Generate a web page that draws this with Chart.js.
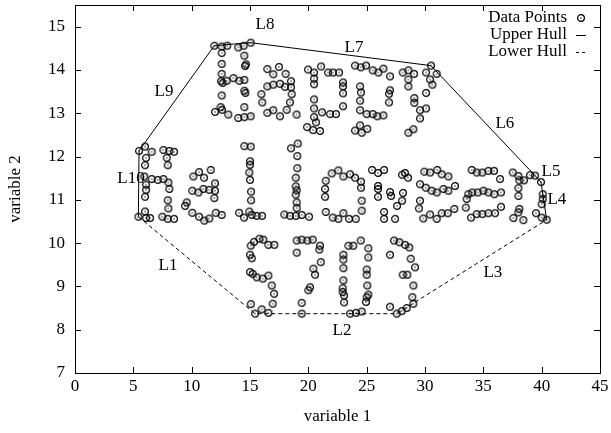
<!DOCTYPE html>
<html>
<head>
<meta charset="utf-8">
<script src="https://cdn.jsdelivr.net/npm/chart.js@4.4.0/dist/chart.umd.min.js"></script>
<style>
  html, body { margin: 0; padding: 0; background: #fff; }
  #wrap { width: 611px; height: 433px; }
</style>
</head>
<body>
<div id="wrap"><canvas id="chart" width="611" height="433"></canvas></div>
<script>
// data points, one list per word of the lettering
const happyPts = [
  [11.94,14.56],[12.57,14.54],[13.05,14.56],[12.57,14.39],[12.57,14.14],[12.57,13.91],[12.51,13.74],[12.65,13.70],
  [13.0,13.75],[13.57,13.81],[14.08,13.75],[14.51,13.77],[13.99,14.52],[14.45,14.56],[15.05,14.63],[14.51,14.33],
  [14.65,14.13],[14.57,14.09],[14.51,13.52],[14.6,13.47],[14.51,13.14],[12.57,13.41],[12.48,13.14],[12.0,13.03],
  [12.6,13.08],[13.14,12.97],[13.99,12.89],[14.51,12.91],[15.05,12.93],
  [16.48,14.02],[17.48,14.07],[16.99,13.90],[18.05,13.91],[18.51,13.74],[17.99,13.61],[17.57,13.68],[16.99,13.66],
  [16.48,13.62],[18.51,13.60],[15.97,13.44],[18.57,13.44],[16.05,13.25],[18.42,13.25],[16.48,13.01],[16.99,13.07],
  [17.57,12.93],[18.14,13.08],[18.99,12.97],
  [19.97,14.01],[20.49,13.94],[21.09,14.08],[21.69,13.94],[22.11,13.94],[22.63,13.94],[20.49,13.80],[20.49,13.67],
  [22.97,13.71],[22.97,13.62],[22.97,13.46],[20.49,13.32],[20.49,13.11],[22.97,13.16],[22.37,12.98],[21.86,12.98],
  [21.17,13.02],[20.49,12.91],[20.66,12.79],[19.89,12.68],[20.40,12.61],[21.0,12.59],
  [24.0,14.10],[24.49,14.06],[24.94,14.10],[25.52,13.99],[26.0,13.94],[26.43,14.03],[27.0,13.85],[24.43,13.62],
  [24.51,13.48],[24.43,13.29],[24.43,13.07],[25.0,12.98],[25.52,12.98],[25.91,12.93],[26.43,12.95],[27.0,13.53],
  [26.91,13.45],[26.91,13.25],[24.43,12.72],[24.0,12.60],[24.57,12.55],[25.05,12.64],
  [28.09,13.94],[28.57,13.99],[29.06,13.91],[28.57,13.78],[28.57,13.62],[30.09,13.94],[30.51,14.10],[31.0,13.91],
  [30.43,13.78],[30.63,13.66],[30.09,13.47],[29.08,13.35],[29.08,13.24],[29.57,13.07],[30.09,13.11],[29.57,12.88],
  [29.0,12.63],[28.57,12.55]
];
const helloweenPts = [
  [5.49,12.13],[6.0,12.23],[6.57,12.11],[6.09,11.97],[6.0,11.80],[5.94,11.54],[6.09,11.35],[6.09,11.23],[6.0,11.07],
  [6.0,10.73],[5.43,10.61],[6.09,10.58],[6.43,10.58],[6.57,11.48],[7.09,11.46],[7.57,11.48],[7.57,12.15],[8.08,12.13],
  [8.49,12.11],[7.86,11.97],[7.95,11.80],[8.0,11.40],[8.08,11.25],[7.95,10.99],[8.0,10.80],[7.48,10.61],[7.95,10.56],
  [8.49,10.56],
  [10.14,11.54],[10.63,11.64],[11.06,11.51],[11.63,11.69],[12.0,11.38],[10.05,11.21],[10.57,11.17],[11.0,11.25],
  [11.51,11.23],[12.0,11.21],[11.94,11.04],[9.57,10.94],[9.43,10.86],[10.05,10.70],[10.63,10.61],[11.08,10.52],
  [11.51,10.57],[12.06,10.70],[12.57,10.65],
  [14.51,12.24],[15.06,12.23],[15.0,11.89],[15.0,11.81],[14.94,11.63],[15.0,11.46],[15.09,11.19],[15.09,10.99],
  [14.94,10.73],[14.06,10.70],[14.49,10.59],[15.15,10.65],[15.57,10.63],[16.03,10.63],
  [18.51,12.19],[19.09,12.30],[19.05,12.01],[19.05,11.73],[18.92,11.51],[18.92,11.31],[19.0,11.22],[18.92,11.12],
  [19.0,10.94],[19.0,10.81],[17.94,10.66],[18.43,10.63],[18.92,10.63],[19.43,10.65],[20.06,10.61],
  [22.0,11.61],[22.57,11.68],[23.0,11.54],[23.57,11.59],[24.0,11.51],[24.51,11.42],[24.51,11.28],[21.49,11.44],
  [21.43,11.25],[21.43,11.07],[24.57,10.98],[24.57,10.75],[21.49,10.72],[22.09,10.59],[22.57,10.56],[23.0,10.69],
  [23.49,10.56],[24.06,10.56],
  [25.46,11.69],[25.97,11.62],[26.49,11.69],[25.97,11.32],[25.97,11.25],[25.97,11.07],[26.49,10.72],[26.49,10.56],
  [27.0,11.18],[27.09,11.09],[27.43,10.56],[27.6,10.86],[28.03,10.98],[28.11,11.16],[28.03,11.58],[28.28,11.62],
  [28.54,11.51],
  [29.94,11.65],[30.43,11.63],[31.05,11.69],[31.43,11.59],[32.0,11.54],[29.57,11.36],[30.06,11.28],[30.57,11.21],
  [31.0,11.17],[31.57,11.25],[32.0,11.21],[32.57,11.32],[29.57,10.98],[29.48,10.80],[29.85,10.57],[30.43,10.66],
  [31.0,10.56],[31.43,10.69],[31.95,10.69],[32.51,10.79],
  [34.0,11.69],[34.43,11.63],[34.91,11.63],[35.43,11.67],[35.91,11.67],[36.43,11.48],[33.71,11.13],[34.05,11.17],
  [34.52,11.17],[35.0,11.21],[35.43,11.17],[35.94,11.13],[36.51,11.17],[33.57,11.02],[33.49,10.82],[33.94,10.59],
  [34.43,10.67],[34.91,10.67],[35.43,10.69],[36.0,10.69],[36.51,10.84],
  [37.52,11.63],[38.0,11.55],[38.08,11.45],[38.48,11.45],[38.0,11.27],[38.0,11.09],[38.08,10.79],[38.0,10.71],
  [37.57,10.58],[38.43,10.53],[39.0,11.57],[39.43,11.56],[39.94,11.41],[40.09,11.13],[40.09,11.02],[40.0,10.90],
  [39.51,10.69],[40.0,10.59],[40.43,10.54]
];
const yearPts = [
  [15.34,10.03],[15.80,10.10],[16.14,10.08],[16.57,9.96],[17.08,9.96],[15.06,9.94],[15.0,9.73],[15.15,9.65],
  [15.0,9.33],[15.23,9.29],[15.57,9.21],[16.09,9.18],[16.57,9.25],[16.86,9.02],[17.06,8.83],[16.94,8.60],
  [15.06,8.59],[16.0,8.47],[16.57,8.39],[15.43,8.37],
  [19.0,10.06],[19.43,10.08],[19.91,10.06],[20.37,10.08],[21.0,9.94],[20.94,9.85],[19.0,9.78],[21.06,9.56],
  [20.43,9.41],[20.57,9.27],[20.14,8.98],[20.0,8.91],[19.43,8.62],[19.43,8.37],
  [23.43,9.94],[23.85,9.94],[24.49,10.06],[25.14,9.88],[25.14,9.67],[23.0,9.73],[23.0,9.62],[23.0,9.42],
  [25.0,9.39],[25.0,9.27],[23.0,9.14],[22.94,8.96],[22.94,8.87],[23.06,8.79],[23.06,8.63],[25.05,9.02],
  [25.14,8.81],[25.0,8.75],[24.94,8.64],[23.57,8.37],[24.09,8.39],[24.57,8.42],
  [27.34,10.06],[27.8,10.02],[28.29,9.96],[28.65,9.90],[27.0,9.73],[28.77,9.64],[29.14,9.44],[28.09,9.27],
  [28.48,9.27],[29.0,9.02],[28.91,8.75],[27.0,8.53],[27.57,8.37],[28.0,8.43],[28.43,8.50],[29.0,8.60]
];

// hull vertices, left to right
const upperHull = [[5.43,10.61],[5.49,12.13],[11.94,14.56],[15.05,14.63],[30.51,14.10],[39.43,11.56],[39.94,11.41],[40.43,10.54]];
const lowerHull = [[5.43,10.61],[15.43,8.37],[27.57,8.37],[40.43,10.54]];

// segment labels and where they sit (data units)
const hullLabels = ['L1','L2','L3','L4','L5','L6','L7','L8','L9','L10'];
const hullLabelPos = [[7.97,9.48],[22.88,7.99],[35.82,9.32],[41.3,11.0],[40.8,11.65],[36.85,12.77],[23.91,14.52],[16.28,15.05],[7.63,13.51],[4.8,11.5]];

const legendNames = ['Data Points','Upper Hull','Lower Hull'];

const FONT = "'Liberation Serif', 'Times New Roman', serif";

// circle with a dot inside, gnuplot style
const dotCircle = document.createElement('canvas');
dotCircle.width = 10; dotCircle.height = 10;
(function () {
    const c = dotCircle.getContext('2d');
    c.strokeStyle = '#000';
    c.lineWidth = 1.2;
    c.beginPath();
    c.arc(5, 5, 3.4, 0, Math.PI * 2);
    c.stroke();
    c.fillStyle = '#000';
    c.fillRect(4.4, 4.4, 1.2, 1.2);
})();

const toXY = arr => arr.map(p => ({x: p[0], y: p[1]}));
const allPts = happyPts.concat(helloweenPts, yearPts);

const framePlugin = {
    id: 'frame',
    afterDraw(chart) {
        const ctx = chart.ctx;
        const a = chart.chartArea;
        const xs = chart.scales.x, ys = chart.scales.y;
        ctx.save();
        ctx.strokeStyle = '#000';
        ctx.lineWidth = 1;
        ctx.strokeRect(Math.round(a.left) + 0.5, Math.round(a.top) + 0.5, Math.round(a.right - a.left), Math.round(a.bottom - a.top));

        // inward ticks on all four sides
        ctx.beginPath();
        xs.ticks.forEach(t => {
            const px = Math.round(xs.getPixelForValue(t.value)) + 0.5;
            ctx.moveTo(px, a.bottom); ctx.lineTo(px, a.bottom - 6);
            ctx.moveTo(px, a.top); ctx.lineTo(px, a.top + 6);
        });
        ys.ticks.forEach(t => {
            const py = Math.round(ys.getPixelForValue(t.value)) + 0.5;
            ctx.moveTo(a.left, py); ctx.lineTo(a.left + 6, py);
            ctx.moveTo(a.right, py); ctx.lineTo(a.right - 6, py);
        });
        ctx.stroke();

        // hull segment labels
        ctx.fillStyle = '#000';
        ctx.font = '17px ' + FONT;
        ctx.textAlign = 'center';
        ctx.textBaseline = 'middle';
        hullLabels.forEach((lab, i) => {
            ctx.fillText(lab, xs.getPixelForValue(hullLabelPos[i][0]), ys.getPixelForValue(hullLabelPos[i][1]));
        });

        // key
        ctx.textAlign = 'right';
        const textRight = 567, sampleX = 581;
        legendNames.forEach((name, i) => {
            const yy = 18 + i * 17;
            ctx.fillText(name, textRight, yy);
            if (i === 0) {
                ctx.drawImage(dotCircle, sampleX - 5, yy - 5);
            } else {
                ctx.beginPath();
                ctx.setLineDash(i === 2 ? [3, 3] : []);
                ctx.moveTo(sampleX - 5, Math.round(yy) + 0.5);
                ctx.lineTo(sampleX + 5, Math.round(yy) + 0.5);
                ctx.stroke();
                ctx.setLineDash([]);
            }
        });
        ctx.restore();
    }
};

new Chart(document.getElementById('chart').getContext('2d'), {
    type: 'scatter',
    data: {
        datasets: [
            { label: 'Upper Hull', data: toXY(upperHull), showLine: true, borderColor: '#000', borderWidth: 1, pointRadius: 0, fill: false },
            { label: 'Lower Hull', data: toXY(lowerHull), showLine: true, borderColor: '#000', borderWidth: 1, borderDash: [4, 3], pointRadius: 0, fill: false },
            { label: 'Data Points', data: toXY(allPts), pointStyle: dotCircle, pointRadius: 4, borderColor: '#000', backgroundColor: '#000' }
        ]
    },
    options: {
        responsive: false,
        animation: false,
        layout: { padding: { left: 0, right: 11, top: 3, bottom: 0 } },
        plugins: { legend: { display: false }, tooltip: { enabled: false } },
        scales: {
            x: {
                type: 'linear', min: 0, max: 45,
                grid: { display: false, drawTicks: false },
                border: { display: false },
                ticks: { stepSize: 5, autoSkip: false, maxRotation: 0, padding: 3, color: '#000', font: { family: FONT, size: 17 } },
                title: { display: true, text: 'variable 1', color: '#000', font: { family: FONT, size: 17 }, padding: { top: 0, bottom: 6 } },
                afterFit: s => { s.height = 60; s.paddingLeft = 0; s.paddingRight = 0; }
            },
            y: {
                type: 'linear', min: 7, max: 15.5,
                grid: { display: false, drawTicks: false },
                border: { display: false },
                ticks: { stepSize: 1, padding: 10, color: '#000', font: { family: FONT, size: 17 } },
                afterBuildTicks: s => { s.ticks = s.ticks.filter(t => Number.isInteger(t.value)); },
                title: { display: true, text: 'variable 2', color: '#000', font: { family: FONT, size: 17 }, padding: { top: 5, bottom: 0 } },
                afterFit: s => { s.width = 75; s.paddingTop = 0; s.paddingBottom = 0; }
            }
        }
    },
    plugins: [framePlugin]
});
</script>
</body>
</html>
